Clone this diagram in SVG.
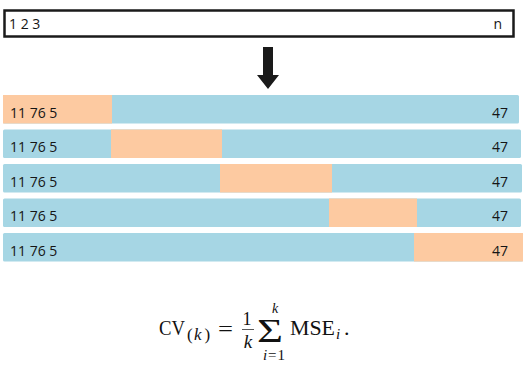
<svg xmlns="http://www.w3.org/2000/svg" width="527" height="367" viewBox="0 0 527 367">
<style>
.lbl{font-family:"Open Sans","Liberation Sans",sans-serif;font-size:14px;fill:#151515}
.blue{fill:#a6d6e4}
.orange{fill:#fdcaa1}
.m{font-family:"Liberation Serif","DejaVu Serif",serif;fill:#111}
.mi{font-family:"Liberation Serif","DejaVu Serif",serif;font-style:italic;fill:#111}
</style>
<rect width="527" height="367" fill="#ffffff"/>
<g id="data">
<rect x="4.5" y="10.5" width="509" height="26" fill="#ffffff" stroke="#1a1a1a" stroke-width="2.5"/>
<text class="lbl" x="9" y="29" font-size="13">1 2 3</text>
<text class="lbl" x="502" y="29" font-size="13" text-anchor="end">n</text>
</g>
<g id="connectors">
<path d="M263,47 H273 V75 H279 L268,89 L257,75 H263 Z" fill="#1a1a1a"/>
</g>
<g id="fold1">
<rect class="blue" x="3" y="95" width="516" height="28.5" rx="1.5"/>
<rect class="orange" x="3" y="95" width="109" height="28.5"/>
<text class="lbl" x="10" y="117.5">11 76 5</text>
<text class="lbl" x="508" y="117.5" text-anchor="end">47</text>
</g>
<g id="fold2">
<rect class="blue" x="3" y="129.5" width="518" height="28.5" rx="1.5"/>
<rect class="orange" x="111" y="129.5" width="111" height="28.5"/>
<text class="lbl" x="10" y="152">11 76 5</text>
<text class="lbl" x="508" y="152" text-anchor="end">47</text>
</g>
<g id="fold3">
<rect class="blue" x="3" y="164" width="519" height="28.5" rx="1.5"/>
<rect class="orange" x="220" y="164" width="112" height="28.5"/>
<text class="lbl" x="10" y="186.5">11 76 5</text>
<text class="lbl" x="508" y="186.5" text-anchor="end">47</text>
</g>
<g id="fold4">
<rect class="blue" x="3" y="198.5" width="518" height="28.5" rx="1.5"/>
<rect class="orange" x="329" y="198.5" width="88" height="28.5"/>
<text class="lbl" x="10" y="221">11 76 5</text>
<text class="lbl" x="508" y="221" text-anchor="end">47</text>
</g>
<g id="fold5">
<rect class="blue" x="3" y="233" width="520" height="28.5" rx="1.5"/>
<rect class="orange" x="414" y="233" width="109" height="28.5"/>
<text class="lbl" x="10" y="255.5">11 76 5</text>
<text class="lbl" x="508" y="255.5" text-anchor="end">47</text>
</g>
<g id="formula">
<text class="m" x="159" y="335" font-size="22" textLength="26" lengthAdjust="spacingAndGlyphs">CV</text>
<text class="m" x="187" y="340" font-size="17">(</text>
<text class="mi" x="194" y="340" font-size="17">k</text>
<text class="m" x="204.5" y="340" font-size="17">)</text>
<text class="m" x="218" y="336" font-size="22" textLength="15" lengthAdjust="spacingAndGlyphs">=</text>
<text class="m" x="247" y="324.5" font-size="18" text-anchor="middle">1</text>
<line x1="242" y1="329.5" x2="254" y2="329.5" stroke="#111" stroke-width="0.7"/>
<text class="mi" x="248" y="347.5" font-size="19" text-anchor="middle">k</text>
<text class="m" x="257" y="342" font-size="33" textLength="26" lengthAdjust="spacingAndGlyphs">Σ</text>
<text class="mi" x="275" y="313" font-size="14" text-anchor="middle">k</text>
<text class="mi" x="263" y="360" font-size="15">i</text>
<text class="m" x="268" y="360" font-size="15">=</text>
<text class="m" x="277.5" y="360" font-size="15">1</text>
<text class="m" x="290" y="335" font-size="22" textLength="45" lengthAdjust="spacingAndGlyphs">MSE</text>
<text class="mi" x="336" y="339" font-size="15">i</text>
<text class="m" x="344" y="335" font-size="22">.</text>
</g>
</svg>
